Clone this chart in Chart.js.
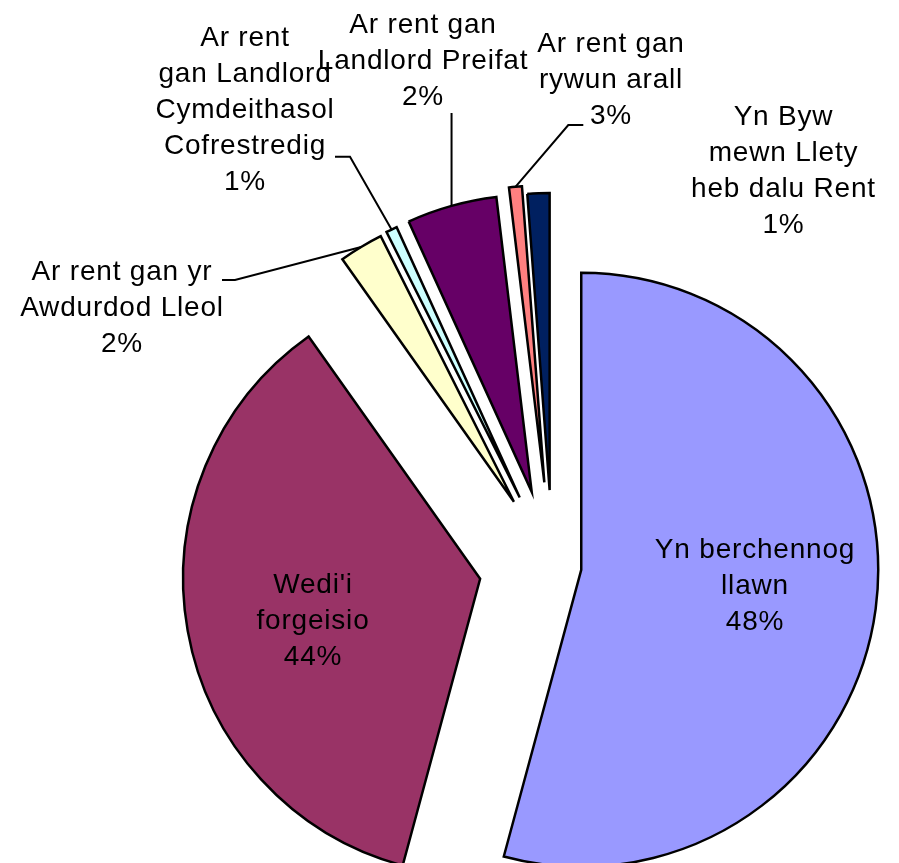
<!DOCTYPE html>
<html>
<head>
<meta charset="utf-8">
<script src="https://cdn.jsdelivr.net/npm/chart.js@4/dist/chart.umd.min.js"></script>
<style>
  html, body { margin: 0; padding: 0; background: #fff; overflow: hidden; }
  #render-container { position: absolute; left: 0; top: 0; width: 1105px; height: 1132px; }
</style>
</head>
<body>
<div id="render-container"><canvas id="pie-chart"></canvas></div>
<script>
// categories (already wrapped as they appear on the chart)
const categories = [
  ["Yn berchennog", "llawn"],
  ["Wedi'i", "forgeisio"],
  ["Ar rent gan yr", "Awdurdod Lleol"],
  ["Ar rent", "gan Landlord", "Cymdeithasol", "Cofrestredig"],
  ["Ar rent gan", "Landlord Preifat"],
  ["Ar rent gan", "rywun arall"],
  ["Yn Byw", "mewn Llety", "heb dalu Rent"],
];
// slice sizes as drawn (share of the pie, %)
const shares = [54.2, 36.0, 2.4, 0.6, 4.9, 0.7, 1.2];
// percentage text printed on the chart
const shareText = ["48%", "44%", "2%", "1%", "2%", "3%", "1%"];

// styles
const sliceColours = ["#9999FF", "#993366", "#FFFFCC", "#CCFFFF", "#660066", "#FF8080", "#002060"];
const explode = [29, 73.5, 75, 76, 77, 84, 76]; // px each slice is pulled out
// label placement relative to pie centre: x = text centre, y = first line centre
const labelPos = [
  { x: 202.5, y: -16 },
  { x: -239.5, y: 19 },
  { x: -430.5, y: -294 },
  { x: -307.5, y: -528 },
  { x: -129.5, y: -541 },
  { x: 58.5, y: -522 },
  { x: 231, y: -449 },
];
// leader lines: points from the label side, then on to the slice edge
// (x = null means "same x as the slice edge", giving a vertical line)
const leaders = [
  null,
  null,
  [[-330.5, -286], [-317.5, -286]],
  [[-217.5, -409.3], [-202.5, -409.3]],
  [[null, -453]],
  [[30.8, -441], [15.8, -441]],
  null,
];
const lineHeight = 36;

const shiftOf = (arc, i) => {
  const mid = (arc.startAngle + arc.endAngle) / 2;
  return { dx: Math.cos(mid) * explode[i], dy: Math.sin(mid) * explode[i], mid: mid };
};

// draw every slice pulled out along its bisector (Excel style explode)
const explodePlugin = {
  id: "explode",
  beforeDatasetDraw(chart, args) {
    const ctx = chart.ctx;
    args.meta.data.forEach((arc, i) => {
      const s = shiftOf(arc, i);
      ctx.save();
      ctx.translate(s.dx, s.dy);
      arc.draw(ctx);
      ctx.restore();
    });
    return false;
  },
};

const labelPlugin = {
  id: "sliceLabels",
  afterDatasetsDraw(chart) {
    const ctx = chart.ctx;
    const arcs = chart.getDatasetMeta(0).data;
    const cx = arcs[0].x;
    const cy = arcs[0].y;
    ctx.save();
    // leader lines
    ctx.strokeStyle = "#000";
    ctx.lineWidth = 2;
    arcs.forEach((arc, i) => {
      if (!leaders[i]) return;
      const s = shiftOf(arc, i);
      const r = arc.outerRadius;
      const ex = cx + s.dx + Math.cos(s.mid) * r;
      const ey = cy + s.dy + Math.sin(s.mid) * r;
      ctx.beginPath();
      leaders[i].forEach((p, k) => {
        const px = p[0] === null ? ex : cx + p[0];
        if (k == 0) ctx.moveTo(px, cy + p[1]);
        else ctx.lineTo(px, cy + p[1]);
      });
      ctx.lineTo(ex, ey);
      ctx.stroke();
    });
    // texts
    ctx.fillStyle = "#000";
    ctx.font = '28px "Liberation Sans", Arial, sans-serif';
    ctx.letterSpacing = "0.8px";
    ctx.textAlign = "center";
    ctx.textBaseline = "middle";
    arcs.forEach((arc, i) => {
      const lines = categories[i].concat([shareText[i]]);
      lines.forEach((t, k) => {
        ctx.fillText(t, cx + labelPos[i].x, cy + labelPos[i].y + k * lineHeight);
      });
    });
    ctx.restore();
  },
};

const ctx = document.getElementById("pie-chart").getContext("2d");
const myChart = new Chart(ctx, {
  type: "pie",
  data: {
    labels: categories,
    datasets: [
      {
        data: shares,
        backgroundColor: sliceColours,
        borderColor: "#000",
        borderWidth: 2.5,
        borderJoinStyle: "miter",
        radius: 297,
      },
    ],
  },
  options: {
    responsive: true,
    maintainAspectRatio: false,
    animation: false,
    layout: { padding: 0 },
    plugins: {
      legend: { display: false },
      tooltip: { enabled: false },
    },
  },
  plugins: [explodePlugin, labelPlugin],
});
</script>
</body>
</html>
